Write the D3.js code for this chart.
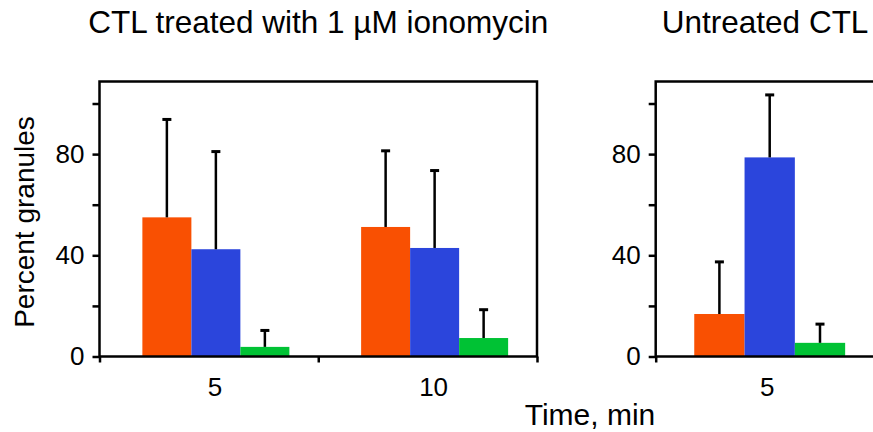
<!DOCTYPE html>
<html>
<head>
<meta charset="utf-8">
<script src="https://cdn.jsdelivr.net/npm/d3@7"></script>
<style>
  body { margin: 0; background: #fff; }
  svg { display: block; }
  text { font-family: "Liberation Sans", Arial, sans-serif; fill: #000; }
</style>
</head>
<body>
<div id="chart"></div>
<script>
const width = 873;
const height = 432;

// Data (percent of granules, mean and upper error)
const series = ["orange", "blue", "green"];
const seriesColors = ["#f95002", "#2b45dc", "#00c234"];

const ionoTimes = ["5", "10"];
const ionoMeans = [[55.0, 42.4, 3.8], [51.2, 42.9, 7.3]];
const ionoErrors = [[38.7, 38.6, 6.5], [30.1, 30.6, 11.2]];

const untreatedTimes = ["5"];
const untreatedMeans = [[16.8, 78.7, 5.4]];
const untreatedErrors = [[20.6, 24.7, 7.4]];

const yTicks = [0, 20, 40, 60, 80, 100];
const yLabelTicks = [0, 40, 80];

const svg = d3.select("#chart").append("svg")
  .attr("width", width)
  .attr("height", height);

// shared y scale
const plotTop = 81.5, plotBottom = 356.5;
const y = d3.scaleLinear().domain([0, 108.7]).range([plotBottom, plotTop]);

function drawPanel(x0, x1, times, means, errors, title, opts) {
  const w = x1 - x0;
  const barWidth = opts.barWidth;
  const g = svg.append("g").attr("transform", `translate(${x0},0)`);

  const xOuter = d3.scaleBand().domain(times).range([0, w]);
  const xInner = d3.scaleBand().domain(series).range([0, barWidth * series.length]);
  const groupOffset = (xOuter.step() - barWidth * series.length) / 2 + opts.barShift;

  const rows = times.flatMap((t, i) => series.map((s, j) => ({
    time: t, series: s, color: seriesColors[j], mean: means[i][j], err: errors[i][j]
  })));

  // bars
  g.selectAll("rect.bar")
    .data(rows)
    .join("rect")
    .attr("class", "bar")
    .attr("x", d => xOuter(d.time) + groupOffset + xInner(d.series))
    .attr("y", d => y(d.mean))
    .attr("width", xInner.bandwidth())
    .attr("height", d => y(0) - y(d.mean))
    .attr("fill", d => d.color);

  // error bars (upper only)
  const cx = d => xOuter(d.time) + groupOffset + xInner(d.series) + xInner.bandwidth() / 2;
  g.selectAll("line.err")
    .data(rows)
    .join("line")
    .attr("class", "err")
    .attr("x1", cx).attr("x2", cx)
    .attr("y1", d => y(d.mean))
    .attr("y2", d => y(d.mean + d.err))
    .attr("stroke", "#000")
    .attr("stroke-width", 2.5);

  g.selectAll("line.cap")
    .data(rows)
    .join("line")
    .attr("class", "cap")
    .attr("x1", d => cx(d) - 4.5).attr("x2", d => cx(d) + 4.5)
    .attr("y1", d => y(d.mean + d.err))
    .attr("y2", d => y(d.mean + d.err))
    .attr("stroke", "#000")
    .attr("stroke-width", 3);

  // frame
  g.append("rect")
    .attr("x", 0).attr("y", plotTop)
    .attr("width", w).attr("height", plotBottom - plotTop)
    .attr("fill", "none")
    .attr("stroke", "#000")
    .attr("stroke-width", 2.5);

  // y axis
  const yAxis = g.append("g")
    .call(d3.axisLeft(y).tickValues(yTicks).tickSize(7).tickPadding(8)
      .tickFormat(d => yLabelTicks.includes(d) ? d : ""));
  yAxis.select(".domain").remove();
  yAxis.selectAll("line").attr("stroke-width", 2.5);
  yAxis.selectAll("text")
    .style("font-family", "'Liberation Sans', Arial, sans-serif")
    .style("font-size", "26px");

  // x axis: boundary ticks
  const xEdges = d3.scaleLinear().domain([0, times.length]).range([0, w]);
  const xAxis = g.append("g")
    .attr("transform", `translate(0,${plotBottom})`)
    .call(d3.axisBottom(xEdges).tickValues(d3.range(times.length + 1)).tickSize(6).tickFormat(""));
  xAxis.select(".domain").remove();
  xAxis.selectAll("line").attr("stroke-width", 2.5);

  // category labels
  g.selectAll("text.cat")
    .data(times)
    .join("text")
    .attr("class", "cat")
    .attr("x", t => xOuter(t) + xOuter.step() / 2 + opts.labelShift)
    .attr("y", 396)
    .attr("text-anchor", "middle")
    .style("font-size", "26px")
    .text(t => t);

  // panel title
  g.append("text")
    .attr("x", w / 2)
    .attr("y", 33)
    .attr("text-anchor", "middle")
    .style("font-size", "31.5px")
    .text(title);
}

drawPanel(99.5, 537, ionoTimes, ionoMeans, ionoErrors, "CTL treated with 1 \u00b5M ionomycin",
  {barWidth: 49, barShift: 7, labelShift: 6});
drawPanel(655.7, 874.5, untreatedTimes, untreatedMeans, untreatedErrors, "Untreated CTL",
  {barWidth: 50.3, barShift: 4.6, labelShift: 2.2});

// axis titles
svg.append("text")
  .attr("transform", "translate(34,222) rotate(-90)")
  .attr("text-anchor", "middle")
  .style("font-size", "28px")
  .text("Percent granules");

svg.append("text")
  .attr("x", 590)
  .attr("y", 425)
  .attr("text-anchor", "middle")
  .style("font-size", "30px")
  .text("Time, min");
</script>
</body>
</html>
